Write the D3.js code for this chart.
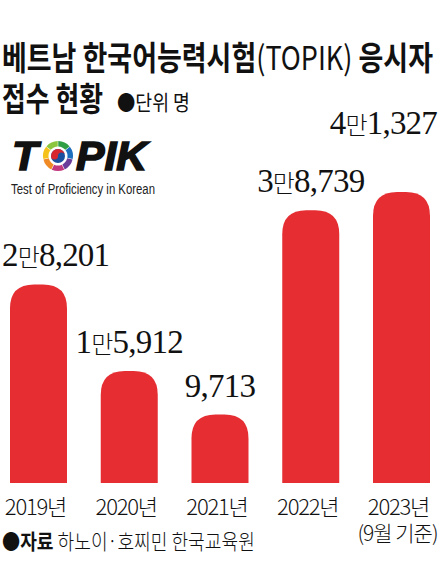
<!DOCTYPE html>
<html>
<head>
<meta charset="utf-8">
<script src="https://cdn.jsdelivr.net/npm/d3@7"></script>
<style>
  body { margin: 0; background: #fff; }
  svg { display: block; }
</style>
</head>
<body>
<svg width="441" height="578"></svg>
<script>
// data
const years = ["2019", "2020", "2021", "2022", "2023"];
const applicants = [28201, 15912, 9713, 38739, 41327];
const yearLabels = ["2019년", "2020년", "2021년", "2022년", "2023년"];

const svg = d3.select("svg");
const red = "#e52d32";
const kr = "'Noto Sans CJK KR', 'Noto Sans', sans-serif";
const num = "'Liberation Serif', 'DejaVu Serif', serif";

// lay text pieces side by side, then squeeze the group to the wanted width
function fitLine(parts, x0, y0, width, size) {
  const g = svg.append("g");
  let cx = 0;
  parts.forEach(p => {
    const t = g.append("text")
       .attr("x", cx).attr("y", 0)
       .attr("font-family", kr).attr("font-size", p.size || size)
       .attr("font-weight", p.weight || 400)
       .attr("fill", "#111")
       .attr("xml:space", "preserve")
       .text(p.text);
    cx += t.node().getComputedTextLength();
  });
  g.attr("transform", `translate(${x0},${y0}) scale(${width / cx},1)`);
  return g;
}

// title
fitLine([
  { text: "베트남 한국어능력시험", weight: 700 },
  { text: "(TOPIK)", weight: 400 },
  { text: " 응시자", weight: 700 }
], 2, 70, 431, 33);
fitLine([{ text: "접수 현황", weight: 700 }], 2, 111, 101, 33);
fitLine([{ text: "●단위 명", weight: 400 }], 117, 110, 73, 21);

// TOPIK logo
const logo = svg.append("g");
const logoFont = "'Liberation Sans', Arial, sans-serif";
logo.append("text")
   .attr("x", 12).attr("y", 170)
   .attr("font-family", logoFont)
   .attr("font-size", 40).attr("font-weight", 700).attr("font-style", "italic")
   .attr("textLength", 26).attr("lengthAdjust", "spacingAndGlyphs")
   .attr("fill", "#111").attr("stroke", "#111").attr("stroke-width", 1.6)
   .text("T");
logo.append("text")
   .attr("x", 76).attr("y", 170)
   .attr("font-family", logoFont)
   .attr("font-size", 40).attr("font-weight", 700).attr("font-style", "italic")
   .attr("textLength", 71).attr("lengthAdjust", "spacingAndGlyphs")
   .attr("fill", "#111").attr("stroke", "#111").attr("stroke-width", 1.6)
   .text("PIK");

const ring = logo.append("g").attr("transform", "translate(58,156)");
const ringColors = ["#2f9e44", "#1f6fbf", "#6a3d9a", "#c2377d", "#f08a24", "#f4c21b", "#8cc63f"];
const ringArc = d3.arc().innerRadius(9.5).outerRadius(15);
const pie = d3.pie().value(1).sort(null).padAngle(0.03);
ring.selectAll("path.seg")
   .data(pie(ringColors))
   .join("path")
   .attr("class", "seg")
   .attr("d", ringArc)
   .attr("fill", d => d.data);
// taeguk
const tr = 7;
ring.append("circle").attr("r", tr).attr("fill", "#1b4fa0");
ring.append("path")
   .attr("d", `M ${-tr} 0 A ${tr} ${tr} 0 0 1 ${tr} 0 A ${tr / 2} ${tr / 2} 0 0 0 0 0 A ${tr / 2} ${tr / 2} 0 0 1 ${-tr} 0 Z`)
   .attr("fill", "#d8262f");

logo.append("text")
   .attr("x", 11).attr("y", 194)
   .attr("font-family", logoFont)
   .attr("font-size", 14)
   .attr("textLength", 144).attr("lengthAdjust", "spacingAndGlyphs")
   .attr("fill", "#222")
   .text("Test of Proficiency in Korean");

// scales
const x = d3.scaleBand().domain(years).range([10, 430]).paddingInner(0.372).paddingOuter(0);
const y = d3.scaleLinear().domain([0, d3.max(applicants)]).range([483, 192]);

const rows = years.map((yr, i) => ({ year: yr, value: applicants[i], label: yearLabels[i] }));

function topRounded(x0, y0, w, y1, r) {
  r = Math.min(r, w / 2, (y1 - y0));
  return `M ${x0} ${y1} L ${x0} ${y0 + r} Q ${x0} ${y0} ${x0 + r} ${y0} L ${x0 + w - r} ${y0} Q ${x0 + w} ${y0} ${x0 + w} ${y0 + r} L ${x0 + w} ${y1} Z`;
}

svg.append("g").selectAll("path")
   .data(rows)
   .join("path")
   .attr("d", d => topRounded(x(d.year), y(d.value), x.bandwidth(), y(0), 24))
   .attr("fill", red);

// value labels (만 unit in smaller sans)
const lift = { "2023": 40 };
const labels = svg.append("g").selectAll("text")
   .data(rows)
   .join("text")
   .attr("y", d => y(d.value) - 18 - (lift[d.year] || 0))
   .attr("font-family", num).attr("font-size", 33)
   .attr("letter-spacing", -0.8)
   .attr("fill", "#111")
   .each(function (d) {
     const t = d3.select(this);
     const man = Math.floor(d.value / 10000);
     const rest = d.value % 10000;
     if (man > 0) {
       t.append("tspan").text(man);
       t.append("tspan").attr("font-family", kr).attr("font-size", 24).attr("font-weight", 300).text("만");
       t.append("tspan").text(d3.format(",")(rest));
     } else {
       t.append("tspan").text(d3.format(",")(rest));
     }
   });
labels.each(function (d) {
  const w = this.getComputedTextLength();
  let x0 = x(d.year) + x.bandwidth() / 2 - w / 2;
  x0 = Math.max(2, Math.min(437 - w, x0));
  d3.select(this).attr("x", x0);
});

// x labels
svg.append("g").selectAll("text")
   .data(rows)
   .join("text")
   .attr("x", d => x(d.year) + x.bandwidth() / 2 - 3)
   .attr("y", 515)
   .attr("text-anchor", "middle")
   .attr("font-family", kr).attr("font-size", 22).attr("font-weight", 300)
   .attr("letter-spacing", -1.2)
   .attr("fill", "#111")
   .text(d => d.label);

svg.append("text")
   .attr("x", x("2023") + x.bandwidth() / 2 - 4)
   .attr("y", 541)
   .attr("text-anchor", "middle")
   .attr("font-family", kr).attr("font-size", 21).attr("font-weight", 300)
   .attr("letter-spacing", -1)
   .attr("fill", "#111")
   .text("(9월 기준)");

// source
fitLine([
  { text: "●자료", weight: 700 },
  { text: " 하노이·호찌민 한국교육원", weight: 300 }
], 2, 549, 253, 21);
</script>
</body>
</html>
